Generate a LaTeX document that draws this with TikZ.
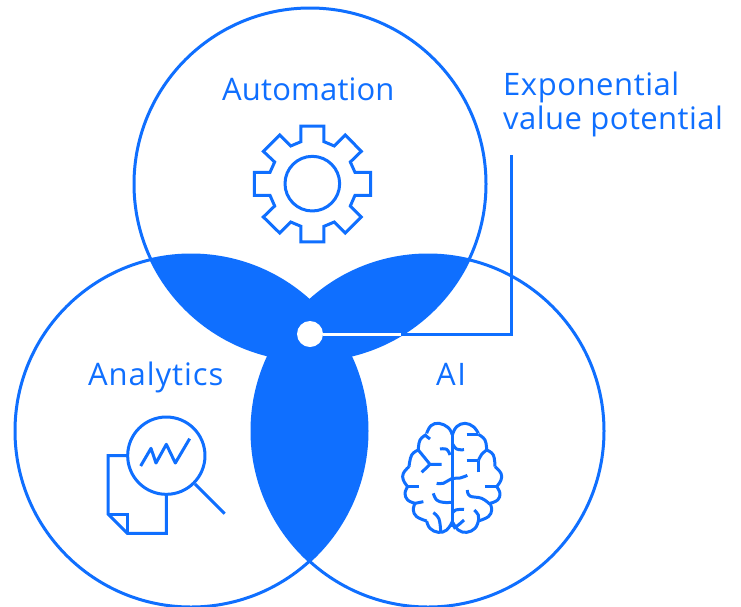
\documentclass[tikz,border=0pt]{standalone}
\usepackage{fontspec}
\setmainfont{Open Sans}
\definecolor{ibm}{HTML}{0F6FFF}
\tikzset{
  ln/.style={draw=ibm,line width=3pt,line join=miter,fill=none},
  ic/.style={draw=ibm,line width=3pt,line join=round,line cap=butt,fill=none},
  lbl/.style={text=ibm,font=\fontsize{31}{34}\selectfont,inner sep=0pt,anchor=base west}
}
\begin{document}
\begin{tikzpicture}[x=1pt,y=-1pt]
\useasboundingbox (0,0) rectangle (741,606);
\fill[white] (0,0) rectangle (741,606);
\coordinate (T) at (310,184);
\coordinate (L) at (191,431);
\coordinate (R) at (428,431);
\def\rad{176}
% pairwise overlaps
\begin{scope}\clip (T) circle[radius=\rad]; \fill[ibm] (L) circle[radius=\rad]; \fill[ibm] (R) circle[radius=\rad];\end{scope}
\begin{scope}\clip (L) circle[radius=\rad]; \fill[ibm] (R) circle[radius=\rad];\end{scope}
\draw[ln] (T) circle[radius=\rad];
\draw[ln] (L) circle[radius=\rad];
\draw[ln] (R) circle[radius=\rad];
% leader
\node[circle,fill=white,minimum size=26pt,inner sep=0pt] (dot) at (310,334) {};
\coordinate (cross) at (401,334);
\coordinate (corner) at (511,334);
\coordinate (top) at (511,155);
\draw[white,line width=3pt] (dot.east) -- (cross);
\draw[ln] (cross) -- (corner) -- (top);
% labels
\node[lbl] (auto) at (222,100) {\addfontfeature{LetterSpace=0.5}Automation};
\node[lbl] (ana) at (88,385) {\addfontfeature{LetterSpace=3}Analytics};
\node[lbl] (ai) at (436,385) {\addfontfeature{LetterSpace=5}AI};
\node[lbl] (ex1) at (503,95) {\addfontfeature{LetterSpace=1.8}Exponential};
\node[lbl] (ex2) at (503,129) {\addfontfeature{LetterSpace=1.4}value potential};
% gear
\begin{scope}[shift={(240,110)},x=0.3333pt,y=-0.3333pt]
\draw[ic,line join=miter] (183,48)--(252,48)--(252,95)--(283,108)--(316,75)--(364,124)--(331,156)--(345,187)--(392,187)--(392,256)--(345,256)--(331,288)--(364,321)--(316,369)--(283,336)--(252,349)--(252,396)--(183,396)--(183,349)--(152,336)--(119,369)--(70,321)--(104,288)--(90,256)--(43,256)--(43,187)--(90,187)--(104,156)--(70,124)--(119,75)--(152,108)--(183,95)--cycle;
\draw[ic] (217,221) circle[radius=82];
\end{scope}
% magnifier and page
\begin{scope}[shift={(95,405)},x=0.3333pt,y=-0.3333pt]
\draw[ic] (214,152) circle[radius=116];
\draw[ic] (137,183)--(168,130)--(183,174)--(214,118)--(241,174)--(284,101);
\draw[ic] (300,237)--(389,326);
\draw[ic,line join=miter] (97,152)--(39,152)--(39,327)--(97,385)--(214,385)--(214,270);
\draw[ic,line join=miter] (39,327)--(97,327)--(97,385);
\end{scope}
% brain
\begin{scope}[shift={(395,415)},x=0.3333pt,y=-0.3333pt]
\draw[ic] (172,60)--(172,335);
\draw[ic] plot[smooth,tension=.7] coordinates {(172,60)(160,38)(132,25)(108,32)(95,55)};
\draw[ic] plot[smooth,tension=.7] coordinates {(95,58)(75,75)(70,105)};
\draw[ic] plot[smooth,tension=.7] coordinates {(70,105)(50,120)(42,155)};
\draw[ic] plot[smooth,tension=.7] coordinates {(42,155)(25,175)(25,195)(38,215)};
\draw[ic] plot[smooth,tension=.7] coordinates {(38,215)(30,235)(38,255)(60,265)};
\draw[ic] plot[smooth,tension=.7] coordinates {(60,265)(55,285)(65,305)(95,318)};
\draw[ic] plot[smooth,tension=.7] coordinates {(95,318)(105,340)(130,352)(155,345)(172,320)};
\draw[ic] plot[smooth,tension=.7] coordinates {(172,60)(185,35)(210,25)(235,35)(250,55)};
\draw[ic] plot[smooth,tension=.7] coordinates {(250,58)(270,75)(275,105)};
\draw[ic] plot[smooth,tension=.7] coordinates {(275,105)(295,120)(300,155)};
\draw[ic] plot[smooth,tension=.7] coordinates {(300,155)(318,175)(318,195)(305,215)};
\draw[ic] plot[smooth,tension=.7] coordinates {(305,215)(315,235)(308,255)(285,265)};
\draw[ic] plot[smooth,tension=.7] coordinates {(285,265)(290,285)(280,305)(250,318)};
\draw[ic] plot[smooth,tension=.7] coordinates {(250,318)(240,340)(215,352)(190,345)(172,320)};
\draw[ic] (92,62)--(105,72);
\draw[ic] (70,105)--(105,148)--(140,148);
\draw[ic] (105,148)--(80,172);
\draw[ic] plot[smooth,tension=.7] coordinates {(135,102)(155,103)(165,120)};
\draw[ic] (32,214)--(72,214);
\draw[ic] plot[smooth,tension=.7] coordinates {(125,205)(145,205)(170,191)(195,189)(217,181)};
\draw[ic] plot[smooth,tension=.7] coordinates {(115,235)(125,255)(145,262)(170,262)};
\draw[ic] (60,265)--(85,260);
\draw[ic] plot[smooth,tension=.7] coordinates {(115,293)(132,312)(137,350)};
\draw[ic] plot[smooth,tension=.7] coordinates {(172,85)(185,102)(207,104)};
\draw[ic] (215,57)--(250,57);
\draw[ic] (215,137)--(250,137);
\draw[ic] (250,172)--(250,137);
\draw[ic] plot[smooth,tension=.7] coordinates {(250,137)(260,118)(275,105)};
\draw[ic] (270,214)--(310,214);
\draw[ic] plot[smooth,tension=.7] coordinates {(217,225)(225,243)(260,250)(285,268)};
\draw[ic] plot[smooth,tension=.7] coordinates {(172,295)(182,285)(207,283)};
\draw[ic] plot[smooth,tension=.7] coordinates {(238,285)(250,300)(250,318)};
\draw[ic] plot[smooth,tension=.7] coordinates {(175,340)(190,330)(207,315)};
\end{scope}
\end{tikzpicture}
\end{document}
